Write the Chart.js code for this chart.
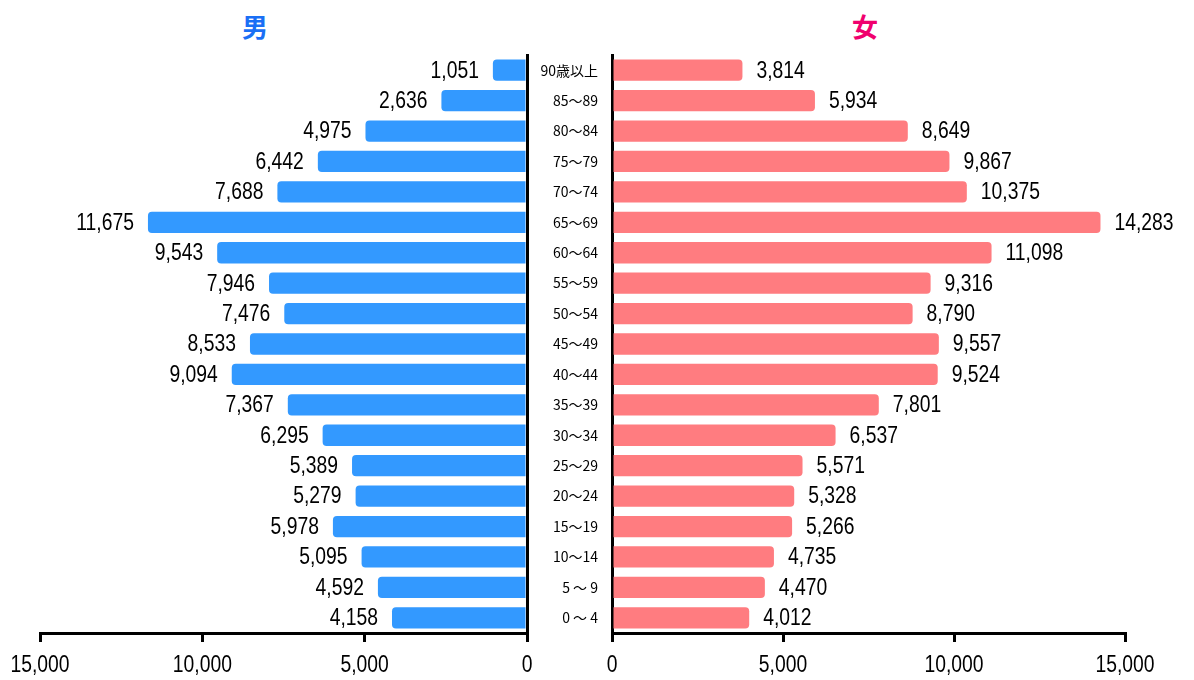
<!DOCTYPE html>
<html>
<head>
<meta charset="utf-8">
<script src="https://cdn.jsdelivr.net/npm/chart.js@4.4.1/dist/chart.umd.min.js"></script>
<style>
  html, body { margin: 0; padding: 0; background: #fff; }
  #wrap { position: relative; width: 1194px; height: 680px; overflow: hidden; background: #fff; }
  .ttl { position: absolute; top: 8px; font: bold 26px "Noto Sans CJK JP", sans-serif; line-height: 36px; width: 60px; text-align: center; }
  #cl { position: absolute; left: 0; top: 0; }
  #cr { position: absolute; left: 520px; top: 0; }
</style>
</head>
<body>
<div id="wrap">
  <div class="ttl" style="left:225px;color:#1a6ff5;">男</div>
  <div class="ttl" style="left:835px;color:#f0006e;">女</div>
  <canvas id="cl" width="535" height="680"></canvas>
  <canvas id="cr" width="674" height="680"></canvas>
</div>
<script>
const ageGroups = ["90歳以上", "85～89", "80～84", "75～79", "70～74", "65～69", "60～64", "55～59", "50～54", "45～49", "40～44", "35～39", "30～34", "25～29", "20～24", "15～19", "10～14", "5 ～ 9", "0 ～ 4"];
const maleValues = [1051, 2636, 4975, 6442, 7688, 11675, 9543, 7946, 7476, 8533, 9094, 7367, 6295, 5389, 5279, 5978, 5095, 4592, 4158];
const femaleValues = [3814, 5934, 8649, 9867, 10375, 14283, 11098, 9316, 8790, 9557, 9524, 7801, 6537, 5571, 5328, 5266, 4735, 4470, 4012];
const axisTicks = [0, 5000, 10000, 15000];

const numFont = '23px "Liberation Sans", Arial, sans-serif';
const squeeze = 0.84;
const fmt = v => v.toLocaleString('en-US');

function drawNarrow(ctx, text, x, y, align) {
  ctx.save();
  ctx.translate(x, y);
  ctx.scale(squeeze, 1);
  ctx.textAlign = align;
  ctx.fillText(text, 0, 0);
  ctx.restore();
}

function textPlugin(side) {
  return {
    id: 'texts' + side,
    afterDraw(chart) {
      const ctx = chart.ctx;
      ctx.save();
      ctx.font = numFont;
      ctx.fillStyle = '#000';
      ctx.textBaseline = 'middle';
      // value labels at bar ends
      const meta = chart.getDatasetMeta(0);
      const data = chart.data.datasets[0].data;
      meta.data.forEach((bar, i) => {
        if (side === 'left') drawNarrow(ctx, fmt(data[i]), bar.x - 14, bar.y + 1, 'right');
        else drawNarrow(ctx, fmt(data[i]), bar.x + 14, bar.y + 1, 'left');
      });
      // x-axis tick labels from the scale
      const s = chart.scales.x;
      s.ticks.forEach(t => {
        drawNarrow(ctx, fmt(t.value), s.getPixelForValue(t.value), s.top + 33, 'center');
      });
      ctx.restore();
    }
  };
}

function xScale(reverse) {
  return {
    type: 'linear',
    position: 'bottom',
    reverse: reverse,
    min: 0,
    max: 15000,
    afterBuildTicks(scale) { scale.ticks = axisTicks.map(v => ({ value: v })); },
    afterFit(scale) { scale.height = 47; },
    grid: { display: true, drawOnChartArea: false, drawTicks: true, tickLength: 9, color: '#000', lineWidth: 3 },
    border: { display: true, color: '#000', width: 3 },
    ticks: { display: false }
  };
}

const common = {
  indexAxis: 'y',
  responsive: false,
  animation: false,
  events: [],
  plugins: { legend: { display: false }, tooltip: { enabled: false } }
};

new Chart(document.getElementById('cl'), {
  type: 'bar',
  data: {
    labels: ageGroups,
    datasets: [{ data: maleValues, backgroundColor: '#3399ff', borderRadius: 4, borderSkipped: 'start', barPercentage: 0.7, categoryPercentage: 1 }]
  },
  options: Object.assign({}, common, {
    layout: { padding: { left: 40, top: 55, right: 0, bottom: 0 } },
    scales: {
      x: xScale(true),
      y: {
        type: 'category',
        position: 'right',
        offset: true,
        afterFit(scale) { scale.width = 8; },
        grid: { display: false },
        border: { display: true, color: '#000', width: 3 },
        ticks: { display: false }
      }
    }
  }),
  plugins: [textPlugin('left')]
});

new Chart(document.getElementById('cr'), {
  type: 'bar',
  data: {
    labels: ageGroups,
    datasets: [{ data: femaleValues, backgroundColor: '#ff7c80', borderRadius: 4, borderSkipped: 'start', barPercentage: 0.7, categoryPercentage: 1 }]
  },
  options: Object.assign({}, common, {
    layout: { padding: { left: 0, top: 55, right: 69, bottom: 0 } },
    scales: {
      x: xScale(false),
      y: {
        type: 'category',
        position: 'left',
        offset: true,
        afterFit(scale) { scale.width = 92; },
        grid: { display: false, drawTicks: false },
        border: { display: true, color: '#000', width: 3 },
        ticks: { color: '#000', font: { size: 14, family: '"Noto Sans CJK JP", sans-serif' }, padding: 14, autoSkip: false }
      }
    }
  }),
  plugins: [textPlugin('right')]
});
</script>
</body>
</html>
